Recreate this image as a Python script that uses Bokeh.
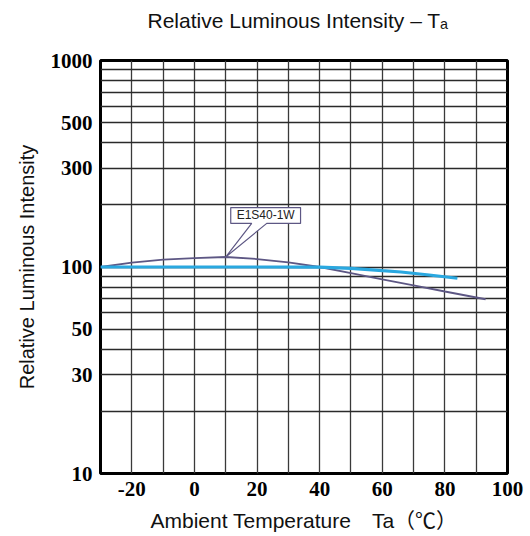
from bokeh.plotting import figure
from bokeh.models import FixedTicker, Title
from bokeh.core.properties import value
from bokeh.embed import file_html
from bokeh.resources import INLINE

# ---- data ----
purple_t = [-30, -20, -10, 0, 10, 20, 30, 40, 50, 60, 70, 80, 93]
purple_v = [100, 104.9, 108.5, 110.5, 111.8, 109.3, 105.4, 100, 93.4, 87.2, 81.5, 76.1, 69.8]
blue_t = [-30, 0, 20, 40, 50, 60, 66, 75, 84]
blue_v = [100, 100, 100, 99.8, 98.5, 96, 94.6, 91.5, 88.2]
series_name = "E1S40-1W"

x_ticks = [-20, 0, 20, 40, 60, 80, 100]
x_tick_labels = ["-20", "0", "20", "40", "60", "80", "100"]
y_ticks = [10, 30, 50, 100, 300, 500, 1000]
x_grid = list(range(-30, 101, 10))
y_grid = [10, 20, 30, 40, 50, 60, 70, 80, 90, 100, 200, 300, 400, 500, 600, 700, 800, 900, 1000]

title_text = "Relative Luminous Intensity – Tₐ"
x_label = "Ambient Temperature\u3000Ta（℃）"
y_label = "Relative Luminous Intensity"

# callout box (data coords)
box_x0, box_x1 = 11.6, 33.9
box_y0, box_y1 = 162.6, 194.0
ptr_a, ptr_b = 18.3, 23.1
tip_t, tip_v = 10, 111.8

FONT = "Liberation Sans, 'Noto Sans CJK JP'"

p = figure(width=530, height=536, x_range=(-30, 100), y_range=(10, 1000),
           y_axis_type="log", output_backend="svg", toolbar_location=None,
           min_border_left=100, min_border_right=23, min_border_top=60, min_border_bottom=63)

p.outline_line_color = "black"
p.outline_line_width = 3
p.background_fill_color = "white"

# spacer between frame and title
p.add_layout(Title(text=" ", text_font_size="2px", standoff=20), "above")

p.title.text = title_text
p.title.align = "left"
p.title.offset = 47
p.title.text_font = FONT
p.title.text_font_style = "normal"
p.title.text_font_size = "21px"
p.title.text_color = "#111"
p.title.standoff = 10

p.xaxis.ticker = FixedTicker(ticks=x_ticks)
p.xaxis.major_label_overrides = {t: s for t, s in zip(x_ticks, x_tick_labels)}
p.yaxis.ticker = FixedTicker(ticks=y_ticks)
for ax in (p.xaxis[0], p.yaxis[0]):
    ax.axis_line_color = None
    ax.major_tick_line_color = None
    ax.minor_tick_line_color = None
    ax.major_tick_in = 0
    ax.major_tick_out = 0
    ax.minor_tick_in = 0
    ax.minor_tick_out = 0
    ax.major_label_text_font = "Liberation Serif"
    ax.major_label_text_font_style = "bold"
    ax.major_label_text_font_size = "21px"
    ax.major_label_text_color = "black"
    ax.axis_label_text_font = FONT
    ax.axis_label_text_font_style = "normal"
    ax.axis_label_text_color = "#111"
p.xaxis.axis_label_text_font_size = "21px"
p.yaxis.axis_label_text_font_size = "20px"
p.xaxis.major_label_standoff = 8
p.yaxis.major_label_standoff = 8
p.xaxis.axis_label = x_label
p.yaxis.axis_label = y_label
p.xaxis.axis_label_standoff = 10
p.yaxis.axis_label_standoff = 10

p.xgrid.ticker = FixedTicker(ticks=x_grid)
p.ygrid.ticker = FixedTicker(ticks=y_grid)
p.xgrid.grid_line_color = "#3a3a3a"
p.ygrid.grid_line_color = "#2a2a2a"
p.xgrid.grid_line_width = 1.3
p.ygrid.grid_line_width = 1.3
p.ygrid.minor_grid_line_color = None

p.line(purple_t, purple_v, line_color="#5d5784", line_width=1.8)
p.line(blue_t, blue_v, line_color="#2aa8e0", line_width=3.2)

# callout
p.patch([box_x0, ptr_a, tip_t, ptr_b, box_x1, box_x1, box_x0],
        [box_y0, box_y0, tip_v, box_y0, box_y0, box_y1, box_y1],
        fill_color="white", line_color="#5d5784", line_width=1.2)
p.text(x=[(box_x0 + box_x1) / 2], y=[(box_y0 * box_y1) ** 0.5], text=[series_name],
       text_font=value("Liberation Sans"), text_font_size="12px", text_color="#222",
       text_align="center", text_baseline="middle")

open("out.html", "w").write(file_html(p, INLINE))
